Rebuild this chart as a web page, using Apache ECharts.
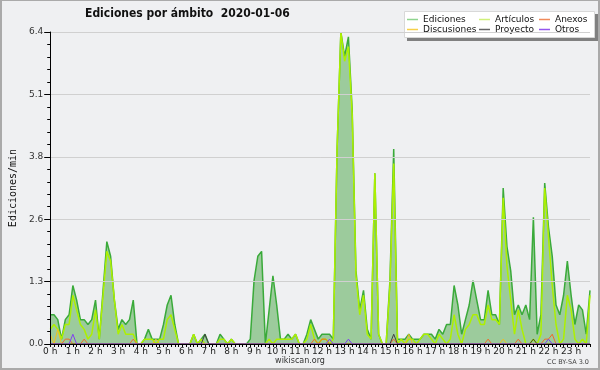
<!DOCTYPE html>
<html>
<head>
<meta charset="utf-8">
<script src="https://cdn.jsdelivr.net/npm/echarts@6/dist/echarts.min.js"></script>
<style>
html,body{margin:0;padding:0;background:#eff0f2;}
#c{width:600px;height:370px;}
</style>
</head>
<body>
<div id="c"></div>
<script>
// ---- data (10-minute samples, edits per minute) ----
const hours = ['0','1','2','3','4','5','6','7','8','9','10','11','12','13','14','15','16','17','18','19','20','21','22','23'];
const minutes = ['00','10','20','30','40','50'];
const hourLabels = ['0 h','1 h','2 h','3 h','4 h','5 h','6 h','7 h','8 h','9 h','10 h','11 h','12 h','13 h','14 h','15 h','16 h','17 h','18 h','19 h','20 h','21 h','22 h','23 h'];
const yTicks = [0, 1.28, 2.56, 3.84, 5.12, 6.4];

const ediciones = [
  0.6,0.6,0.5,0.1,0.5,0.6,1.2,0.9,0.5,0.5,0.4,0.5,
  0.9,0.1,1.1,2.1,1.8,0.9,0.3,0.5,0.4,0.5,0.9,0.0,
  0.0,0.1,0.3,0.1,0.1,0.1,0.4,0.8,1.0,0.4,0.0,0.0,
  0.0,0.0,0.2,0.0,0.1,0.2,0.0,0.0,0.0,0.2,0.1,0.0,
  0.1,0.0,0.0,0.0,0.0,0.1,1.3,1.8,1.9,0.0,0.7,1.4,
  0.8,0.1,0.1,0.2,0.1,0.2,0.0,0.0,0.2,0.5,0.3,0.1,
  0.2,0.2,0.2,0.1,4.0,6.4,5.9,6.3,4.8,1.5,0.7,1.1,
  0.3,0.1,3.5,0.2,0.0,0.0,1.3,4.0,0.1,0.1,0.1,0.2,
  0.1,0.1,0.1,0.2,0.2,0.2,0.1,0.3,0.2,0.4,0.4,1.2,
  0.8,0.2,0.5,0.8,1.3,0.9,0.5,0.5,1.1,0.6,0.6,0.4,
  3.2,2.0,1.5,0.6,0.8,0.6,0.8,0.5,2.6,0.2,0.6,3.3,
  2.4,1.8,0.8,0.6,1.0,1.7,1.0,0.4,0.8,0.7,0.2,1.1
];
const articulos = [
  0.3,0.4,0.3,0.1,0.4,0.4,1.0,0.7,0.4,0.3,0.1,0.2,
  0.7,0.1,1.0,1.9,1.7,0.9,0.2,0.4,0.2,0.2,0.2,0.0,
  0.0,0.1,0.1,0.1,0.0,0.1,0.1,0.5,0.6,0.3,0.0,0.0,
  0.0,0.0,0.2,0.0,0.1,0.0,0.0,0.0,0.0,0.1,0.1,0.0,
  0.1,0.0,0.0,0.0,0.0,0.0,0.0,0.0,0.0,0.0,0.1,0.0,
  0.1,0.1,0.1,0.1,0.1,0.2,0.0,0.0,0.1,0.4,0.1,0.0,
  0.1,0.1,0.0,0.1,4.0,6.4,5.8,6.1,4.7,1.4,0.6,1.0,
  0.2,0.1,3.5,0.2,0.0,0.0,1.2,3.7,0.0,0.1,0.0,0.1,
  0.1,0.0,0.1,0.2,0.2,0.1,0.0,0.2,0.1,0.0,0.1,0.6,
  0.2,0.0,0.3,0.4,0.6,0.6,0.4,0.4,0.8,0.5,0.5,0.4,
  3.0,1.6,0.9,0.2,0.7,0.3,0.0,0.0,0.1,0.0,0.2,3.2,
  2.2,1.2,0.4,0.0,0.1,1.0,0.7,0.1,0.0,0.1,0.0,1.0
];
const anexos = [
  0,0,0,0,0.1,0.1,0,0,0,0.1,0,0,
  0,0,0,0,0,0,0,0,0,0,0.1,0,
  0,0,0,0,0,0,0,0,0,0,0,0,
  0,0,0,0,0,0,0,0,0,0,0,0,
  0,0,0,0,0,0,0,0,0,0,0,0,
  0,0,0,0,0,0,0,0,0,0,0.1,0,
  0.1,0.1,0,0,0,0,0,0,0,0,0,0,
  0,0,0,0,0,0,0,0.1,0,0,0,0,
  0,0,0,0,0,0,0,0,0,0,0,0,
  0,0,0,0,0,0,0,0,0.1,0,0,0,
  0,0,0,0,0.1,0,0,0,0,0,0,0.1,
  0.1,0.2,0,0,0,0,0,0,0,0,0,0
];
const discusiones = [
  0.2,0,0.3,0,0,0,0,0,0,0,0,0,
  0,0,0,0,0,0,0,0,0,0,0,0,
  0,0,0,0,0.1,0,0,0,0,0,0,0,
  0,0,0,0,0,0,0,0,0,0,0,0,
  0,0,0,0,0,0,0,0,0,0,0,0,
  0,0,0,0,0,0,0,0,0,0,0,0,
  0,0,0,0,0,0,0,0,0,0,0,0,
  0,0,0,0,0,0,0,0,0,0,0,0.2,
  0,0,0,0,0,0,0,0,0,0,0,0,
  0,0,0,0,0,0,0,0,0,0,0,0,
  0.1,0,0,0,0,0,0,0,0,0,0,0,
  0,0,0,0,0,0,0,0,0,0,0,0
];
const proyecto = [
  0,0,0,0,0,0,0,0,0,0,0,0,
  0,0,0,0,0,0,0,0,0,0,0,0,
  0,0,0,0,0,0,0,0,0,0,0,0,
  0,0,0,0,0,0.2,0,0,0,0,0,0,
  0,0,0,0,0,0,0,0,0,0,0,0,
  0,0,0,0,0,0,0,0,0,0,0,0,
  0,0,0,0,0,0,0,0,0,0,0,0,
  0,0,0,0,0,0,0,0.2,0,0,0,0,
  0,0,0,0,0,0,0,0,0,0,0,0,
  0,0,0,0,0,0,0,0,0,0,0,0,
  0,0,0,0,0,0,0,0,0.1,0,0,0,
  0,0,0,0,0,0,0,0,0,0,0,0
];
const otros = [
  0,0,0,0,0,0,0.2,0,0,0,0,0,
  0,0,0,0,0,0,0,0,0,0,0,0,
  0,0,0,0,0,0,0,0,0,0,0,0,
  0,0,0,0,0,0,0,0,0,0,0,0,
  0,0,0,0,0,0,0,0,0,0,0,0,
  0,0,0,0,0,0,0,0,0,0,0,0,
  0,0,0.1,0,0,0,0,0.1,0,0,0,0,
  0,0,0,0,0,0,0,0,0,0,0,0,
  0,0,0,0,0,0,0,0,0,0,0,0,
  0,0,0,0,0,0,0,0,0,0,0,0,
  0,0,0,0,0,0,0,0,0,0,0,0,
  0.1,0,0,0,0,0,0,0,0,0,0,0
];

// categories: one per 10 minutes
const categories = [];
hours.forEach(h => minutes.forEach(m => categories.push(h + ':' + m)));

const chart = echarts.init(document.getElementById('c'), null, {renderer:'canvas'});
const FONT = "'DejaVu Sans', sans-serif";

function lineSeries(name, data, color, legendColor, width, extra) {
  return Object.assign({
    name: name, type: 'line', data: data, symbol: 'none', smooth: false,
    lineStyle: {color: color, width: width},
    itemStyle: {color: legendColor},
    emphasis: {disabled: true}
  }, extra || {});
}

const legendBase = {
  orient: 'vertical', top: 15, padding: 0, icon: 'rect', itemWidth: 11, itemHeight: 1.5, itemGap: 1,
  selectedMode: false,
  textStyle: {fontFamily: FONT, fontSize: 9, color: '#111', lineHeight: 9}
};

chart.setOption({
  animation: false,
  backgroundColor: '#eff0f2',
  title: {
    text: 'Ediciones por ámbito  2020-01-06',
    left: 85, top: 8, padding: 0,
    textStyle: {fontFamily: "'DejaVu Sans Condensed', 'DejaVu Sans', sans-serif", fontWeight: 'bold', fontSize: 12, color: '#111'}
  },
  graphic: [
    {type:'rect', z:-10, silent:true, shape:{x:1, y:0, width:598, height:369}, style:{fill:'none', stroke:'#aaaaaa', lineWidth:2}},
    {type:'rect', z:1, silent:true, shape:{x:407, y:14, width:191, height:27}, style:{fill:'#808080'}},
    {type:'rect', z:2, silent:true, shape:{x:404.5, y:11.5, width:190, height:26}, style:{fill:'#ffffff', stroke:'#d8d8d8', lineWidth:1}},
    {type:'text', silent:true, left:'center', top:357, style:{text:'wikiscan.org', font:"8px 'DejaVu Sans'", fill:'#333'}},
    {type:'text', silent:true, right:11, top:359, style:{text:'CC BY-SA 3.0', font:"6.5px 'DejaVu Sans'", fill:'#444'}}
  ],
  legend: [
    Object.assign({}, legendBase, {left: 407, z: 5, data: [
      {name:'Ediciones', itemStyle:{color:'#8fd48f'}},
      {name:'Discusiones', itemStyle:{color:'#f6d04a'}}
    ]}),
    Object.assign({}, legendBase, {left: 479, z: 5, data: [
      {name:'Artículos', itemStyle:{color:'#d0f07a'}},
      {name:'Proyecto', itemStyle:{color:'#666666'}}
    ]}),
    Object.assign({}, legendBase, {left: 539, z: 5, data: [
      {name:'Anexos', itemStyle:{color:'#f08a5a'}},
      {name:'Otros', itemStyle:{color:'#9456ee'}}
    ]})
  ],
  grid: {left: 46, right: 10, top: 32, bottom: 26},
  xAxis: {
    type: 'category', data: categories, boundaryGap: false, z: 10,
    axisLine: {lineStyle: {color: '#000', width: 1}},
    axisTick: {show: true, interval: 0, length: 3, lineStyle: {color: '#000'}},
    axisLabel: {
      interval: 5, margin: 3, fontFamily: FONT, fontSize: 9, color: '#222',
      formatter: (v, i) => (i % 6 === 0 ? hourLabels[i / 6] : '')
    },
    splitLine: {show: false}
  },
  yAxis: {
    type: 'value', min: yTicks[0], max: yTicks[yTicks.length - 1], interval: yTicks[1], z: 10,
    name: 'Ediciones/min', nameLocation: 'middle', nameGap: 31, nameRotate: 90,
    nameTextStyle: {fontFamily: "'DejaVu Sans Mono', monospace", fontSize: 10, color: '#111'},
    axisLine: {show: true, lineStyle: {color: '#000', width: 1}},
    axisTick: {show: true, length: 6, lineStyle: {color: '#000'}},
    minorTick: {show: true, splitNumber: 5, length: 3, lineStyle: {color: '#000'}},
    axisLabel: {margin: 7, fontFamily: FONT, fontSize: 9, color: '#333', formatter: v => v.toFixed(1)},
    splitLine: {show: true, lineStyle: {color: '#d0d0d0', width: 1}}
  },
  series: [
    lineSeries('Ediciones', ediciones, '#3aaa3a', '#8fd48f', 1.5, {areaStyle: {color: '#9ccb9c', opacity: 1}}),
    lineSeries('Artículos', articulos, '#adf000', '#d0f07a', 1.5),
    lineSeries('Anexos', anexos, '#f06a2a', '#f08a5a', 1),
    lineSeries('Discusiones', discusiones, '#f0c020', '#f6d04a', 1),
    lineSeries('Proyecto', proyecto, '#404040', '#666666', 1),
    lineSeries('Otros', otros, '#7f3ff0', '#9456ee', 1)
  ]
});
</script>
</body>
</html>
